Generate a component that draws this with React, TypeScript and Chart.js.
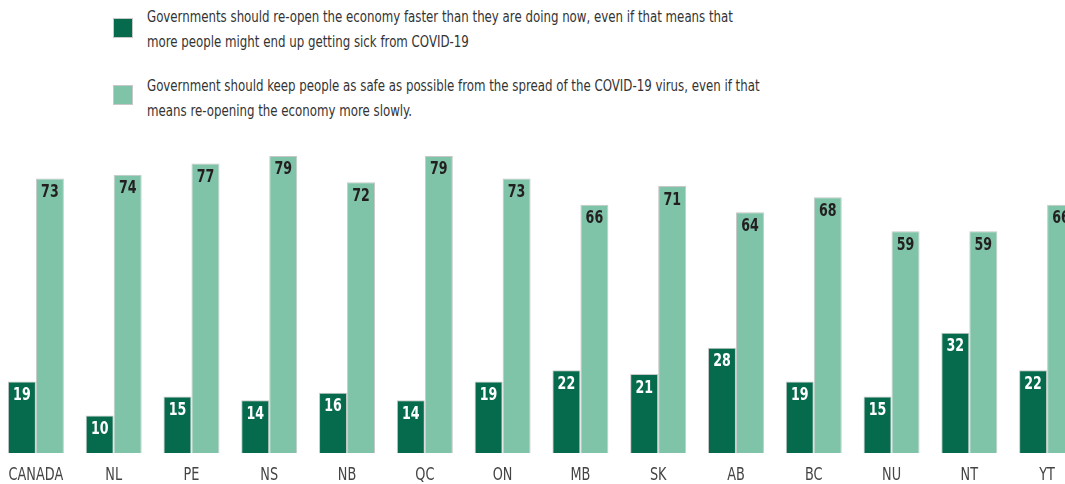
import React, { useEffect, useRef } from "react";
import { Chart, registerables } from "chart.js";

Chart.register(...registerables);

const categories = ["CANADA", "NL", "PE", "NS", "NB", "QC", "ON", "MB", "SK", "AB", "BC", "NU", "NT", "YT"];
const reopenFaster = [19, 10, 15, 14, 16, 14, 19, 22, 21, 28, 19, 15, 32, 22];
const keepSafe = [73, 74, 77, 79, 72, 79, 73, 66, 71, 64, 68, 59, 59, 66];
const legendLabels = [
  ["Governments should re-open the economy faster than they are doing now, even if that means that", "more people might end up getting sick from COVID-19"],
  ["Government should keep people as safe as possible from the spread of the COVID-19 virus, even if that", "means re-opening the economy more slowly."],
];

const DARK = "#066b4d";
const LIGHT = "#7fc4a9";
const FONT = "'Liberation Sans Narrow', 'DejaVu Sans Condensed', 'Arial Narrow', sans-serif";

const labelsPlugin = {
  id: "labelsPlugin",
  afterDatasetsDraw(chart: any) {
    const ctx = chart.ctx;
    ctx.save();
    ctx.font = `bold 18px ${FONT}`;
    ctx.textAlign = "center";
    ctx.textBaseline = "alphabetic";
    chart.data.datasets.forEach((ds: any, di: number) => {
      const meta = chart.getDatasetMeta(di);
      ctx.fillStyle = di === 0 ? "#ffffff" : "#231f20";
      meta.data.forEach((bar: any, i: number) => {
        ctx.save();
        ctx.translate(bar.x, bar.y + 18.5);
        ctx.scale(0.78, 1);
        ctx.fillText(String(ds.data[i]), 0, 0);
        ctx.restore();
      });
    });
    const xs = chart.scales.x;
    ctx.font = `17px ${FONT}`;
    ctx.fillStyle = "#444444";
    chart.data.labels.forEach((lab: string, i: number) => {
      ctx.save();
      ctx.translate(xs.getPixelForValue(i), chart.chartArea.bottom + 27);
      ctx.scale(0.84, 1);
      ctx.fillText(lab, 0, 0);
      ctx.restore();
    });
    ctx.restore();
  },
};

export default function App() {
  const canvasRef = useRef<HTMLCanvasElement | null>(null);

  useEffect(() => {
    if (!canvasRef.current) return;
    const chart = new Chart(canvasRef.current, {
      type: "bar",
      data: {
        labels: categories,
        datasets: [
          {
            label: legendLabels[0].join(" "),
            data: reopenFaster,
            backgroundColor: DARK,
            borderColor: "#c8c8c8",
            borderWidth: 1,
            categoryPercentage: 0.72,
            barPercentage: 1,
          },
          {
            label: legendLabels[1].join(" "),
            data: keepSafe,
            backgroundColor: LIGHT,
            borderColor: "#c8c8c8",
            borderWidth: 1,
            categoryPercentage: 0.72,
            barPercentage: 1,
          },
        ],
      },
      options: {
        animation: false,
        responsive: true,
        maintainAspectRatio: false,
        layout: { padding: 0 },
        plugins: { legend: { display: false }, tooltip: { enabled: false } },
        scales: {
          x: {
            grid: { display: false, drawTicks: false },
            border: { display: false },
            ticks: { display: false },
            afterFit: (scale: any) => {
              scale.height = 31;
              scale.paddingLeft = 0;
              scale.paddingRight = 0;
            },
          },
          y: { display: false, min: 0, max: 100 },
        },
      },
      plugins: [labelsPlugin],
    });
    return () => chart.destroy();
  }, []);

  const textStyle: React.CSSProperties = {
    position: "absolute",
    left: 147,
    fontFamily: FONT,
    fontSize: 16,
    lineHeight: "25px",
    color: "#333333",
    whiteSpace: "nowrap",
    transform: "scaleX(0.82)",
    transformOrigin: "left top",
  };

  return (
    <div style={{ position: "absolute", left: 0, top: 0, width: 1065, height: 484, overflow: "hidden", background: "#ffffff" }}>
      <div style={{ position: "absolute", left: 113, top: 18, width: 20, height: 20, background: DARK, boxSizing: "border-box", border: "1px solid #c8c8c8" }} />
      <div style={{ ...textStyle, top: 4 }}>
        {legendLabels[0][0]}
        <br />
        {legendLabels[0][1]}
      </div>
      <div style={{ position: "absolute", left: 113, top: 85, width: 20, height: 20, background: LIGHT, boxSizing: "border-box", border: "1px solid #c8c8c8" }} />
      <div style={{ ...textStyle, top: 73 }}>
        {legendLabels[1][0]}
        <br />
        {legendLabels[1][1]}
      </div>
      <div style={{ position: "absolute", left: -3, top: 77, width: 1089, height: 407 }}>
        <canvas ref={canvasRef} />
      </div>
    </div>
  );
}
